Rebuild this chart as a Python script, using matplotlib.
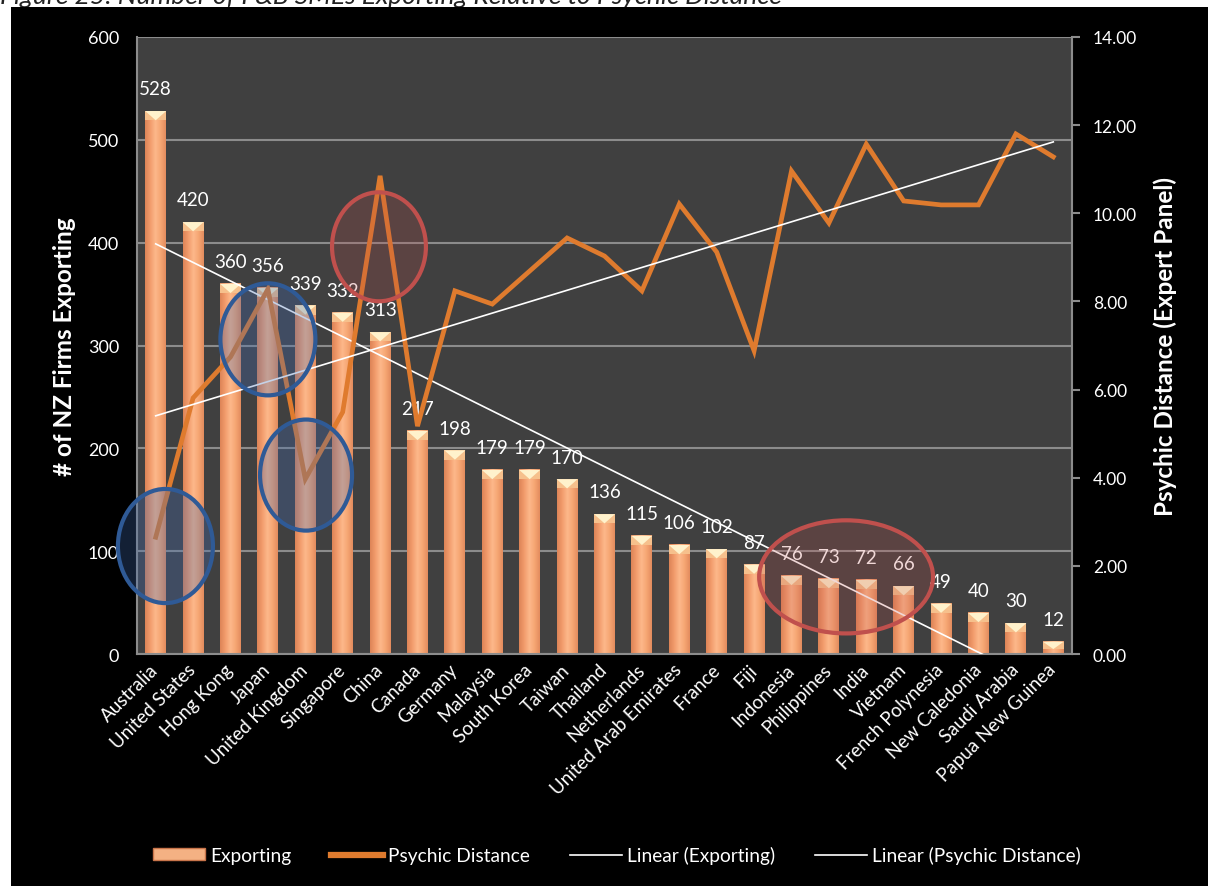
import numpy as np
import matplotlib.pyplot as plt
from matplotlib.colors import LinearSegmentedColormap
from matplotlib.patches import Rectangle, Polygon, Ellipse
from matplotlib.lines import Line2D

plt.rcParams['font.family'] = ['Lato', 'DejaVu Sans']

countries = ["Australia", "United States", "Hong Kong", "Japan", "United Kingdom",
             "Singapore", "China", "Canada", "Germany", "Malaysia", "South Korea",
             "Taiwan", "Thailand", "Netherlands", "United Arab Emirates", "France",
             "Fiji", "Indonesia", "Philippines", "India", "Vietnam",
             "French Polynesia", "New Caledonia", "Saudi Arabia", "Papua New Guinea"]
exporting = [528, 420, 360, 356, 339, 332, 313, 217, 198, 179, 179, 170, 136,
             115, 106, 102, 87, 76, 73, 72, 66, 49, 40, 30, 12]
psychic = [2.65, 5.81, 6.74, 8.28, 3.97, 5.49, 10.85, 5.17, 8.24, 7.94, 8.69,
           9.44, 9.03, 8.24, 10.21, 9.12, 6.88, 10.96, 9.78, 11.57, 10.28,
           10.19, 10.19, 11.80, 11.28]
left_ticks = [0, 100, 200, 300, 400, 500, 600]
right_ticks = [0, 2, 4, 6, 8, 10, 12, 14]

W, H = 1208, 887
fig = plt.figure(figsize=(W / 100, H / 100), dpi=100, facecolor='white')

# caption strip at the very top, mostly hidden under the black panel
fig.text(0.0, 1 - 4.5 / H, "Figure 25: Number of F&B SMEs Exporting Relative to Psychic Distance",
         fontsize=19, style='italic', color='#222222', va='baseline', ha='left', zorder=-2)
fig.add_artist(Rectangle((11 / W, 0), 1 - 11 / W, 1 - 8 / H, transform=fig.transFigure,
                         facecolor='black', edgecolor='none', zorder=-1))

ax = fig.add_axes([137 / W, 1 - 655 / H, (1072 - 137) / W, (655 - 38) / H])
ax.set_facecolor('#404040')
ax2 = ax.twinx()

n = len(countries)
x = np.arange(n)
bw = 0.56

# bars with a horizontal gradient and a bevelled cap
bar_cmap = LinearSegmentedColormap.from_list(
    'bar', ['#DD8457', '#F29C6C', '#FDB88B', '#F6A673', '#E38C5E'])
grad = np.linspace(0, 1, 64).reshape(1, -1)
for i, v in enumerate(exporting):
    ax.imshow(grad, extent=(i - bw / 2, i + bw / 2, 0, v), aspect='auto',
              cmap=bar_cmap, interpolation='bilinear', zorder=2)
    cap = min(9, v * 0.6)
    ax.add_patch(Rectangle((i - bw / 2, v - cap), bw, cap, facecolor='#F6C08C',
                           edgecolor='none', zorder=3))
    ax.add_patch(Polygon([(i - bw / 2, v), (i + bw / 2, v), (i, v - cap)],
                         closed=True, facecolor='#FFF2CC', edgecolor='none', zorder=3))
    ax.annotate(str(v), (i, v), xytext=(0, 12), textcoords='offset points',
                ha='center', va='baseline', color='white', fontsize=13.5, zorder=4)

# linear trend of exporting counts
k1, b1 = np.polyfit(x, exporting, 1)
ax.plot(x, k1 * x + b1, color='white', lw=1.2, zorder=5)

ax.set_xlim(-0.5, n - 0.5)
ax.set_ylim(0, 600)
ax.set_yticks(left_ticks)
ax.set_yticklabels([str(t) for t in left_ticks])
ax.yaxis.grid(True, color='#8C8C8C', lw=1.5)
ax.set_axisbelow(True)
ax.tick_params(axis='y', length=0, pad=13, labelcolor='white', labelsize=13)
ax.set_xticks(x)
ax.set_xticklabels(countries, rotation=45, ha='right', va='center',
                   rotation_mode='anchor', color='white', fontsize=13.5)
ax.tick_params(axis='x', length=0, pad=9)
for s in ['top', 'right']:
    ax.spines[s].set_visible(False)
for s in ['left', 'bottom']:
    ax.spines[s].set_color('#8C8C8C')
    ax.spines[s].set_linewidth(1.5)

# psychic distance line and its trend
ax2.plot(x, psychic, color='#DF7B2E', lw=3.4, solid_joinstyle='miter', zorder=3)
k2, b2 = np.polyfit(x, psychic, 1)
ax2.plot(x, k2 * x + b2, color='white', lw=1.2, zorder=4)

# highlight ellipses (left-axis units)
blue_edge, red_edge = '#2F5A96', '#C0504D'
highlights = [
    (0.26, 105, 2.54, 111, blue_edge, (0.25, 0.42, 0.70, 0.30)),
    (3.0, 306, 2.54, 109, blue_edge, (0.25, 0.42, 0.70, 0.30)),
    (4.02, 174, 2.46, 108, blue_edge, (0.25, 0.42, 0.70, 0.30)),
    (5.97, 396, 2.51, 106, red_edge, (0.75, 0.31, 0.30, 0.22)),
    (18.46, 75, 4.65, 110, red_edge, (0.75, 0.31, 0.30, 0.22)),
]
for cx, cy, ew, eh, ec, fc in highlights:
    ax2.add_patch(Ellipse((cx, cy), ew, eh, transform=ax.transData, clip_on=False,
                          facecolor=fc, edgecolor=ec, lw=3, zorder=6))

ax2.set_xlim(-0.5, n - 0.5)
ax2.set_ylim(0, 14)
ax2.set_yticks(right_ticks)
ax2.set_yticklabels([f"{t:.2f}" for t in right_ticks])
ax2.tick_params(axis='y', length=6, width=1.5, color='#8C8C8C', pad=9,
                labelcolor='white', labelsize=12.5)
for s in ['top', 'left', 'bottom']:
    ax2.spines[s].set_visible(False)
ax2.spines['right'].set_color('#8C8C8C')
ax2.spines['right'].set_linewidth(1.5)

fig.text(65 / W, 1 - 347 / H, "# of NZ Firms Exporting", rotation=90, color='white',
         fontsize=17.5, fontweight='bold', ha='center', va='center')
fig.text(1165 / W, 1 - 347 / H, "Psychic Distance (Expert Panel)", rotation=90,
         color='white', fontsize=17.5, fontweight='bold', ha='center', va='center')

handles = [
    Rectangle((0, 0), 1, 1, facecolor='#F4B183', edgecolor='#C8744A'),
    Line2D([], [], color='#DF7B2E', lw=4.5),
    Line2D([], [], color='white', lw=1.2),
    Line2D([], [], color='white', lw=1.2),
]
labels = ["Exporting", "Psychic Distance", "Linear (Exporting)", "Linear (Psychic Distance)"]
fig.legend(handles, labels, loc='center', bbox_to_anchor=(617 / W, 1 - 856 / H),
           ncol=4, frameon=False, fontsize=13.8, labelcolor='white',
           handlelength=2.7, handleheight=0.55, handletextpad=0.26, columnspacing=2.1)

fig.savefig('out.png', dpi=100, facecolor='white')
